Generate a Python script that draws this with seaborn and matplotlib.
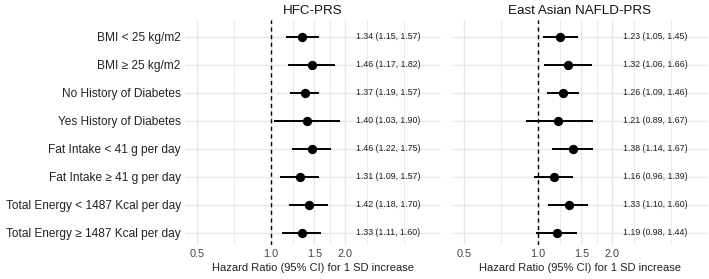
import numpy as np
import pandas as pd
import matplotlib
matplotlib.use("Agg")
import matplotlib.pyplot as plt
import seaborn as sns

categories = [
    "BMI < 25 kg/m2",
    "BMI \u2265 25 kg/m2",
    "No History of Diabetes",
    "Yes History of Diabetes",
    "Fat Intake < 41 g per day",
    "Fat Intake \u2265 41 g per day",
    "Total Energy < 1487 Kcal per day",
    "Total Energy \u2265 1487 Kcal per day",
]
hfc_hr = [1.34, 1.46, 1.37, 1.40, 1.46, 1.31, 1.42, 1.33]
hfc_lo = [1.15, 1.17, 1.19, 1.03, 1.22, 1.09, 1.18, 1.11]
hfc_hi = [1.57, 1.82, 1.57, 1.90, 1.75, 1.57, 1.70, 1.60]
ea_hr = [1.23, 1.32, 1.26, 1.21, 1.38, 1.16, 1.33, 1.19]
ea_lo = [1.05, 1.06, 1.09, 0.89, 1.14, 0.96, 1.10, 0.98]
ea_hi = [1.45, 1.66, 1.46, 1.67, 1.67, 1.39, 1.60, 1.44]
titles = ["HFC-PRS", "East Asian NAFLD-PRS"]
xticks = [0.5, 1.0, 1.5, 2.0]
xtick_labels = ["0.5", "1.0", "1.5", "2.0"]
xlabel = "Hazard Ratio (95% CI) for 1 SD increase"
text_x = 3.0

sns.set_theme(style="whitegrid")
plt.rcParams["font.family"] = ["Liberation Sans", "DejaVu Sans"]

W, H = 709, 279
fig = plt.figure(figsize=(W / 100, H / 100), dpi=100)
top_px, bot_px = 20, 245
panels = [(185, 441), (452, 708)]
grid_c = "#E8E8E8"

for i, ((l, r), title, hr, lo, hi) in enumerate(zip(
        panels, titles, [hfc_hr, ea_hr], [hfc_lo, ea_lo], [hfc_hi, ea_hi])):
    ax = fig.add_axes([l / W, (H - bot_px) / H, (r - l) / W, (bot_px - top_px) / H])
    df = pd.DataFrame({"cat": categories, "hr": hr, "lo": lo, "hi": hi,
                       "y": np.arange(len(categories))})
    ax.set_xscale("log")
    ax.set_xlim(0.447, 4.9)
    ax.set_ylim(len(categories) - 1 + 0.43, -0.6)
    ax.set_facecolor("white")
    for s in ax.spines.values():
        s.set_visible(False)
    ax.set_xticks(xticks)
    ax.set_xticklabels(xtick_labels)
    minor = [np.sqrt(0.5), np.sqrt(1.5), np.sqrt(3.0), np.sqrt(2 * 3.0), np.sqrt(3.0 * 4.0)]
    ax.set_xticks(minor, minor=True)
    ax.xaxis.set_minor_formatter(matplotlib.ticker.NullFormatter())
    ax.grid(False)
    ax.grid(True, which="major", axis="both", color=grid_c, linewidth=1.0)
    ax.grid(True, which="minor", axis="x", color=grid_c, linewidth=0.6)
    ax.tick_params(axis="both", which="both", length=0, pad=3)
    ax.set_axisbelow(True)
    ax.axvline(1.0, color="black", linestyle=(0, (3, 2.5)), linewidth=1.0, zorder=2)
    ax.hlines(df["y"], df["lo"], df["hi"], color="black", linewidth=1.4, zorder=3)
    sns.scatterplot(data=df, x="hr", y="y", ax=ax, color="black", s=45,
                    edgecolor="black", linewidth=0, zorder=4, legend=False)
    for _, row in df.iterrows():
        ax.text(text_x, row["y"], f"{row['hr']:.2f} ({row['lo']:.2f}, {row['hi']:.2f})",
                ha="center", va="center", fontsize=6.3, color="#222222")
    ax.set_yticks(df["y"])
    if i == 0:
        ax.set_yticklabels(categories, fontsize=8.6, color="#222222")
    else:
        ax.set_yticklabels([])
    ax.tick_params(axis="x", labelsize=7.8, labelcolor="#444444", pad=3)
    ax.set_xlabel(xlabel, fontsize=8, color="#222222", labelpad=3)
    ax.set_ylabel("")
    ax.set_title(title, fontsize=9.6, color="#111111", pad=4)

fig.savefig("out.png", dpi=100)
